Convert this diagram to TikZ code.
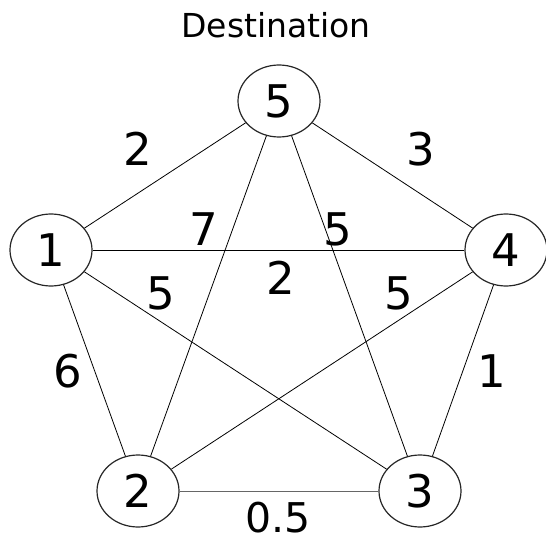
\documentclass[tikz,border=0pt]{standalone}
\usepackage{fontspec}
\setmainfont{DejaVu Sans}
\usetikzlibrary{shapes.geometric}

\begin{document}
\begin{tikzpicture}[x=1pt,y=-1pt, every node/.style={font=\fontsize{45}{50}\selectfont}]
\tikzstyle{vertex}=[ellipse, draw=black!85, line width=1.2pt, minimum width=82pt, minimum height=72pt, inner sep=0pt]
\tikzstyle{link}=[line width=0.8pt]
\tikzstyle{weight}=[inner sep=0pt]
\useasboundingbox (0,0) rectangle (546,540);
\node[font=\fontsize{33}{38}\selectfont] (dest) at (276,25) {Destination};
\node[vertex] (v5) at (279,101) {5};
\node[vertex] (v1) at (51,250) {1};
\node[vertex] (v4) at (506,250) {4};
\node[vertex] (v2) at (138,491) {2};
\node[vertex] (v3) at (420,491) {3};
\draw[link] (v5)--(v1); \draw[link] (v5)--(v4); \draw[link] (v5)--(v2); \draw[link] (v5)--(v3);
\draw[link] (v1)--(v4); \draw[link] (v1)--(v2); \draw[link] (v1)--(v3);
\draw[link] (v4)--(v2); \draw[link] (v4)--(v3);
\draw[link, draw=black!60] (v2)--(v3);
\node[weight] (w51) at (138,149) {2};
\node[weight] (w54) at (421,149) {3};
\node[weight] (w52) at (204,229) {7};
\node[weight] (w53) at (338,229) {5};
\node[weight] (w14) at (281,278) {2};
\node[weight] (w13) at (161,293) {5};
\node[weight] (w42) at (399,293) {5};
\node[weight] (w12) at (68,371) {6};
\node[weight] (w43) at (492,371) {1};
\node[weight, font=\fontsize{41}{46}\selectfont] (w23) at (278,518) {0.5};
\end{tikzpicture}
\end{document}
